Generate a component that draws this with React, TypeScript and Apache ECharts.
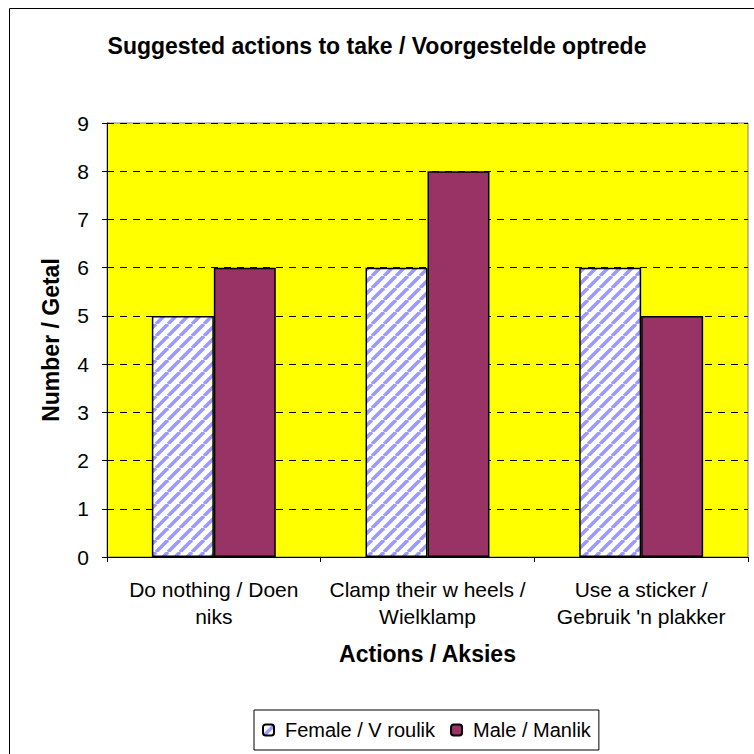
import React, { useEffect, useRef } from "react";
import * as echarts from "echarts";

const categories = [
  "Do nothing / Doen\nniks",
  "Clamp their w heels /\nWielklamp",
  "Use a sticker /\nGebruik 'n plakker",
];
const femaleValues = [5, 6, 6];
const maleValues = [6, 8, 5];
const seriesNames = ["Female / V roulik", "Male / Manlik"];
const titleText = "Suggested actions to take / Voorgestelde optrede";
const xAxisTitle = "Actions / Aksies";
const yAxisTitle = "Number / Getal";

const FONT = "'Liberation Sans', Arial, sans-serif";

function makeHatch(): HTMLCanvasElement {
  const s = 12;
  const c = document.createElement("canvas");
  c.width = s;
  c.height = s;
  const ctx = c.getContext("2d")!;
  ctx.fillStyle = "#ffffff";
  ctx.fillRect(0, 0, s, s);
  ctx.strokeStyle = "#9999ff";
  ctx.lineWidth = 3.5;
  for (let k = -1; k <= 1; k++) {
    ctx.beginPath();
    ctx.moveTo(k * s, s);
    ctx.lineTo(k * s + s, 0);
    ctx.stroke();
  }
  return c;
}

export default function App() {
  const ref = useRef<HTMLDivElement>(null);
  useEffect(() => {
    if (!ref.current) return;
    const chart = echarts.init(ref.current, null, { renderer: "svg" });
    const hatch = makeHatch();
    chart.setOption({
      animation: false,
      backgroundColor: "#ffffff",
      textStyle: { fontFamily: FONT },
      title: {
        text: titleText,
        left: "center",
        top: 29,
        textStyle: { fontFamily: FONT, fontSize: 23, fontWeight: "bold", color: "#000" },
      },
      graphic: [
        {
          type: "polyline",
          shape: { points: [[9.5, 754], [9.5, 8.5], [754, 8.5]] },
          style: { stroke: "#000", lineWidth: 1, fill: null },
          silent: true,
        },
      ],
      grid: {
        left: 107,
        right: 6,
        top: 123,
        bottom: 197,
        show: true,
        backgroundColor: "#ffff00",
        borderColor: "#808080",
        borderWidth: 1,
      },
      legend: {
        left: 254,
        top: 710,
        itemWidth: 11,
        itemHeight: 11,
        itemGap: 15,
        padding: [10, 8, 10, 8],
        borderColor: "#000",
        borderWidth: 1,
        backgroundColor: "#fff",
        textStyle: { fontFamily: FONT, fontSize: 20, color: "#000", padding: [0, 0, 0, 6] },
        data: seriesNames,
      },
      xAxis: {
        type: "category",
        data: categories,
        name: xAxisTitle,
        nameLocation: "middle",
        nameGap: 85,
        nameTextStyle: { fontFamily: FONT, fontSize: 23, fontWeight: "bold", color: "#000" },
        axisLine: { lineStyle: { color: "#000", width: 1 } },
        axisTick: { show: true, length: 5, lineStyle: { color: "#000" } },
        axisLabel: {
          fontFamily: FONT,
          fontSize: 21,
          lineHeight: 27,
          color: "#000",
          margin: 19,
          interval: 0,
        },
      },
      yAxis: {
        type: "value",
        min: 0,
        max: 9,
        interval: 1,
        name: yAxisTitle,
        nameLocation: "middle",
        nameGap: 45,
        nameTextStyle: { fontFamily: FONT, fontSize: 23, fontWeight: "bold", color: "#000" },
        axisLine: { show: true, lineStyle: { color: "#000", width: 1 } },
        axisTick: { show: true, length: 5, lineStyle: { color: "#000" } },
        axisLabel: { fontFamily: FONT, fontSize: 21, color: "#000", margin: 18 },
        splitLine: { show: true, lineStyle: { color: "#000", width: 1, type: [7, 6] } },
      },
      series: [
        {
          name: seriesNames[0],
          type: "bar",
          data: femaleValues,
          barWidth: "29%",
          barGap: "0%",
          itemStyle: {
            color: { image: hatch, repeat: "repeat" },
            borderColor: "#000",
            borderWidth: 1.5,
          },
        },
        {
          name: seriesNames[1],
          type: "bar",
          data: maleValues,
          barWidth: "29%",
          barGap: "0%",
          itemStyle: { color: "#993366", borderColor: "#000", borderWidth: 1.5 },
        },
      ],
    });
    return () => chart.dispose();
  }, []);
  return (
    <div
      ref={ref}
      style={{ position: "fixed", left: 0, top: 0, width: 754, height: 754 }}
    />
  );
}
